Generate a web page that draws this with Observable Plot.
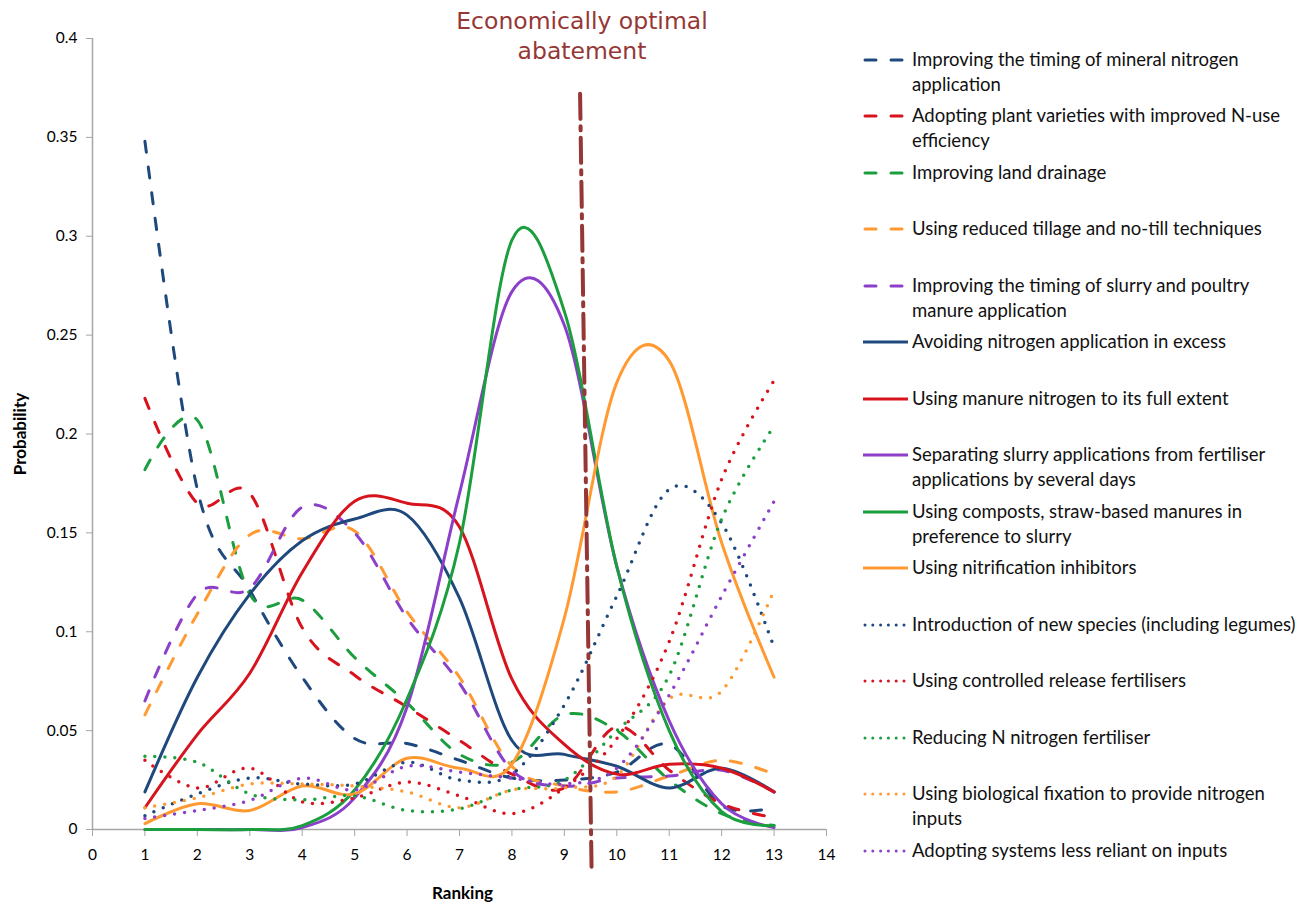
<!DOCTYPE html>
<html>
<head>
<meta charset="utf-8">
<script src="https://cdn.jsdelivr.net/npm/d3@7"></script>
<script src="https://cdn.jsdelivr.net/npm/@observablehq/plot@0.6"></script>
<style>
  html, body { margin: 0; padding: 0; background: #fff; }
  #wrap { position: relative; width: 1311px; height: 904px; overflow: hidden; font-family: Lato, "Open Sans", sans-serif; }
  #chart { position: absolute; left: 0; top: 0; }
  #title { position: absolute; left: 382px; top: 6px; width: 400px; text-align: center; font-family: "DejaVu Sans", sans-serif; font-size: 23.5px; line-height: 30px; color: #953735; }
  .lg { position: absolute; left: 863px; font-size: 18.5px; line-height: 25px; color: #111; white-space: nowrap; }
  .lg svg { position: absolute; left: 0; top: 9px; }
  .lg span { position: absolute; left: 49px; top: 0; }
</style>
</head>
<body>
<div id="wrap">
  <div id="chart"></div>
  <div id="title">Economically optimal<br>abatement</div>
  <div id="legend"></div>
</div>
<script>
// ---- Data ----
const rankings = [1,2,3,4,5,6,7,8,9,10,11,12,13];
const xTicks = [0,1,2,3,4,5,6,7,8,9,10,11,12,13,14];
const yTicks = [0,0.05,0.1,0.15,0.2,0.25,0.3,0.35,0.4];

const seriesNames = [
  "Improving the timing of mineral nitrogen application",
  "Adopting plant varieties with improved N-use efficiency",
  "Improving land drainage",
  "Using reduced tillage and no-till techniques",
  "Improving the timing of slurry and poultry manure application",
  "Avoiding nitrogen application in excess",
  "Using manure nitrogen to its full extent",
  "Separating slurry applications from fertiliser applications by several days",
  "Using composts, straw-based manures in preference to slurry",
  "Using nitrification inhibitors",
  "Introduction of new species (including legumes)",
  "Using controlled release fertilisers",
  "Reducing N nitrogen fertiliser",
  "Using biological fixation to provide nitrogen inputs",
  "Adopting systems less reliant on inputs"
];
// legend line breaks as in the original
const legendLines = [
  ["Improving the timing of mineral nitrogen", "application"],
  ["Adopting plant varieties with improved N-use", "efficiency"],
  ["Improving land drainage"],
  ["Using reduced tillage and no-till techniques"],
  ["Improving the timing of slurry and poultry", "manure application"],
  ["Avoiding nitrogen application in excess"],
  ["Using manure nitrogen to its full extent"],
  ["Separating slurry applications from fertiliser", "applications by several days"],
  ["Using composts, straw-based manures in", "preference to slurry"],
  ["Using nitrification inhibitors"],
  ["Introduction of new species (including legumes)"],
  ["Using controlled release fertilisers"],
  ["Reducing N nitrogen fertiliser"],
  ["Using biological fixation to provide nitrogen", "inputs"],
  ["Adopting systems less reliant on inputs"]
];

const timingMineral   = [0.348,0.172,0.121,0.077,0.046,0.0435,0.035,0.026,0.025,0.029,0.043,0.012,0.011];
const plantVarieties  = [0.218,0.165,0.170,0.102,0.078,0.062,0.045,0.028,0.021,0.052,0.030,0.013,0.006];
const landDrainage    = [0.182,0.207,0.119,0.116,0.087,0.064,0.038,0.034,0.058,0.050,0.025,0.008,0.002];
const reducedTillage  = [0.058,0.109,0.149,0.147,0.151,0.110,0.077,0.032,0.022,0.019,0.027,0.035,0.028];
const timingSlurry    = [0.065,0.119,0.122,0.163,0.150,0.107,0.074,0.030,0.022,0.026,0.027,0.030,0.019];
const avoidExcess     = [0.019,0.077,0.119,0.146,0.157,0.159,0.117,0.045,0.038,0.032,0.021,0.031,0.019];
const manureFull      = [0.011,0.048,0.079,0.130,0.166,0.165,0.153,0.076,0.043,0.028,0.033,0.031,0.019];
const separatingSlurry= [0,0,0,0.001,0.016,0.062,0.170,0.272,0.255,0.133,0.055,0.013,0.001];
const composts        = [0,0,0,0.002,0.020,0.066,0.145,0.298,0.262,0.133,0.050,0.009,0.002];
const nitrifInhib     = [0.003,0.013,0.0096,0.022,0.018,0.036,0.031,0.033,0.107,0.226,0.237,0.145,0.077];
const newSpecies      = [0.007,0.018,0.026,0.023,0.023,0.034,0.025,0.028,0.063,0.118,0.172,0.155,0.092];
const controlledRel   = [0.035,0.021,0.031,0.014,0.016,0.024,0.017,0.008,0.021,0.046,0.095,0.177,0.227];
const reducingN       = [0.037,0.034,0.018,0.015,0.017,0.0096,0.0105,0.020,0.025,0.050,0.078,0.157,0.204];
const bioFixation     = [0.011,0.016,0.023,0.023,0.022,0.019,0.011,0.020,0.021,0.027,0.066,0.070,0.121];
const lessReliant     = [0.0056,0.0096,0.0147,0.026,0.020,0.032,0.029,0.026,0.023,0.031,0.068,0.118,0.166];

const seriesValues = [timingMineral, plantVarieties, landDrainage, reducedTillage, timingSlurry,
  avoidExcess, manureFull, separatingSlurry, composts, nitrifInhib,
  newSpecies, controlledRel, reducingN, bioFixation, lessReliant];

const seriesColors = ["#1F497D","#D7141E","#1B9E3E","#FF9A33","#8C3FC9",
                      "#1F497D","#D7141E","#8C3FC9","#1B9E3E","#FF9A33",
                      "#1F497D","#D7141E","#1B9E3E","#FF9A33","#8C3FC9"];
const seriesStyles = ["dash","dash","dash","dash","dash",
                      "solid","solid","solid","solid","solid",
                      "dot","dot","dot","dot","dot"];

// Economically optimal abatement marker
const optimalLine = [{x: 9.3, y: 0.372}, {x: 9.52, y: -0.021}];
const optimalLabel = "Economically optimal abatement";

// ---- Build ----
const styleOpts = {
  dash:  {strokeWidth: 3, strokeDasharray: "11,15", strokeLinecap: "round"},
  solid: {strokeWidth: 3, strokeLinecap: "round"},
  dot:   {strokeWidth: 3.5, strokeDasharray: "0,10", strokeLinecap: "round"}
};

const lineMarks = seriesValues.map((vals, i) => {
  const data = rankings.map((r, j) => ({rank: r, value: vals[j]}));
  return Plot.line(data, {x: "rank", y: "value", curve: "cardinal", stroke: seriesColors[i], ...styleOpts[seriesStyles[i]]});
});

const plot = Plot.plot({
  width: 850,
  height: 904,
  marginLeft: 92,
  marginRight: 24,
  marginTop: 38,
  marginBottom: 75,
  style: {fontFamily: "Lato, 'Open Sans', sans-serif", fontSize: "15.5px", color: "#000", background: "transparent", overflow: "visible"},
  x: {domain: [0, 14]},
  y: {domain: [0, 0.4]},
  marks: [
    Plot.ruleX([0], {stroke: "#A6A6A6", strokeWidth: 1.5}),
    Plot.ruleY([0], {stroke: "#A6A6A6", strokeWidth: 1.5}),
    Plot.axisY({ticks: yTicks, tickSize: 6, tickPadding: 9, stroke: "#A6A6A6", fill: "#000", fontSize: 15.5, label: null,
      tickFormat: d => d === 0 ? "0" : String(+d.toFixed(2))}),
    Plot.axisX({ticks: xTicks, tickSize: 7, tickPadding: 12, stroke: "#A6A6A6", fill: "#000", fontSize: 15.5, label: null,
      tickFormat: d => String(d)}),
    Plot.text(["Probability"], {text: d => d, frameAnchor: "left", textAnchor: "middle", lineAnchor: "middle", rotate: -90, dx: -72, fontWeight: "bold", fontSize: 17}),
    Plot.text(["Ranking"], {text: d => d, frameAnchor: "bottom", textAnchor: "middle", lineAnchor: "middle", dy: 64, dx: 3, fontWeight: "bold", fontSize: 17}),
    ...lineMarks,
    Plot.line(optimalLine, {x: "x", y: "y", stroke: "#953735", strokeWidth: 4, strokeDasharray: "25,7.5,4,7.5"})
  ]
});
document.getElementById("chart").appendChild(plot);

// Legend
const legend = document.getElementById("legend");
const firstTop = 59 - 12.5;
legendLines.forEach((lines, i) => {
  const div = document.createElement("div");
  div.className = "lg";
  div.style.top = (firstTop + i * 56.5) + "px";
  const st = seriesStyles[i];
  let dash = "";
  if (st === "dash") dash = 'stroke-dasharray="11,15" stroke-linecap="round"';
  if (st === "dot") dash = 'stroke-dasharray="0,7.8" stroke-linecap="round"';
  const x1 = st === "solid" ? 0 : 2, x2 = st === "solid" ? 45 : 43;
  div.innerHTML = `<svg width="47" height="8"><line x1="${x1}" y1="4" x2="${x2}" y2="4" stroke="${seriesColors[i]}" stroke-width="3" ${dash}/></svg><span>${lines.join("<br>")}</span>`;
  legend.appendChild(div);
});
</script>
</body>
</html>
